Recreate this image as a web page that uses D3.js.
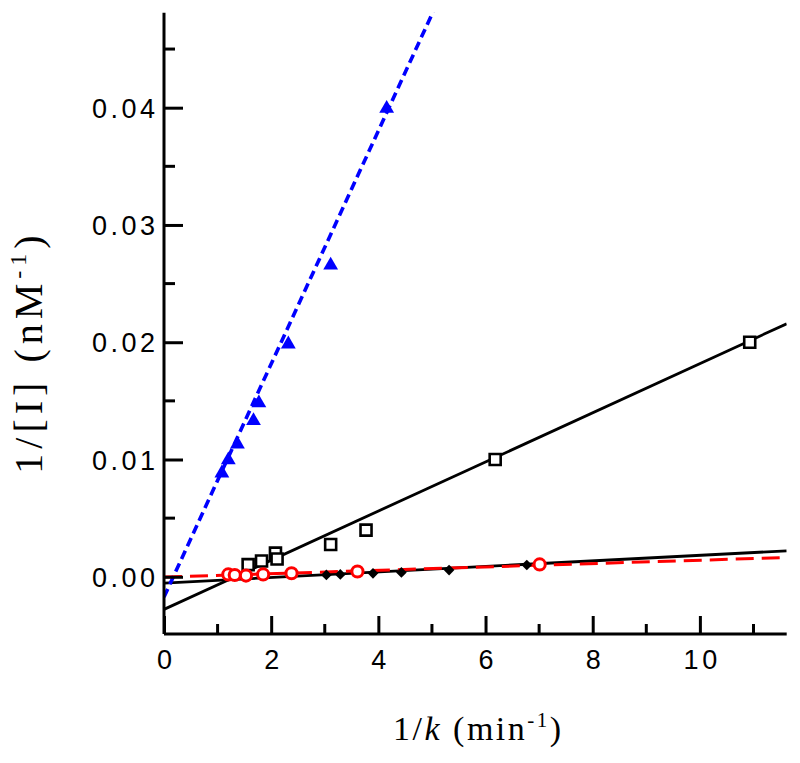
<!DOCTYPE html>
<html>
<head>
<meta charset="utf-8">
<script src="https://cdn.jsdelivr.net/npm/d3@7"></script>
<style>
html,body{margin:0;padding:0;background:#fff;}
svg{display:block;}
</style>
</head>
<body>
<script>
// ---- data ----
const triX = [1.08, 1.20, 1.37, 1.67, 1.77, 2.32, 3.11, 4.155];
const triY = [0.00884, 0.00995, 0.01131, 0.0133, 0.01481, 0.01984, 0.02657, 0.03993];

const sqX = [1.57, 1.82, 2.08, 2.11, 3.11, 3.77, 6.18, 10.93];
const sqY = [0.00104, 0.00134, 0.00202, 0.00151, 0.00275, 0.00398, 0.0100, 0.0200];

const cirX = [1.20, 1.32, 1.53, 1.85, 2.38, 3.61, 7.01];
const cirY = [0.0002, 0.00015, 0.0001, 0.0002, 0.0003, 0.00045, 0.00105];

const diaX = [3.03, 3.29, 3.90, 4.43, 5.32, 6.77];
const diaY = [0.00016, 0.0002, 0.00029, 0.00037, 0.00057, 0.0010];

// fitted lines: [slope, intercept]
const fitSq  = [0.002096, -0.00278];
const fitDia = [0.000237, -0.00054];
const fitCir = [0.000143, -0.00002];
const fitTri = [0.00994, -0.00173];

const xMajorTicks = [0, 2, 4, 6, 8, 10];
const xMinorTicks = [1, 3, 5, 7, 9, 11];
const yMajorTicks = [0, 0.01, 0.02, 0.03, 0.04];
const yMinorTicks = [0.005, 0.015, 0.025, 0.035, 0.045];

const xDomain = [0, 11.62];
const yDomain = [-0.00488, 0.0481];

// ---- drawing ----
const W = 800, H = 763;
const mL = 164, mR = 786.7, mT = 12.7, mB = 634;

const svg = d3.select("body").append("svg").attr("width", W).attr("height", H);

const x = d3.scaleLinear().domain(xDomain).range([mL, mR]);
const y = d3.scaleLinear().domain(yDomain).range([mB, mT]);

svg.append("defs").append("clipPath").attr("id", "plotclip")
  .append("rect").attr("x", mL).attr("y", mT).attr("width", mR - mL).attr("height", mB - mT);

const plot = svg.append("g");
const lines = plot.append("g").attr("clip-path", "url(#plotclip)");

function fitLine(fit, color, width, dash) {
  const pts = [xDomain[0], xDomain[1]].map(v => [v, fit[0] * v + fit[1]]);
  lines.append("path")
    .attr("d", d3.line().x(d => x(d[0])).y(d => y(d[1]))(pts))
    .attr("fill", "none").attr("stroke", color).attr("stroke-width", width)
    .attr("stroke-dasharray", dash || null);
}
fitLine(fitSq, "#000", 2.8);
fitLine(fitDia, "#000", 2.8);
fitLine(fitCir, "#ff0000", 3, "18,8");
fitLine(fitTri, "#0000ff", 3.6, "9,5");

const marks = plot.append("g");
function zip(a, b) { return a.map((v, i) => [v, b[i]]); }

// squares (open)
marks.selectAll(".sq").data(zip(sqX, sqY)).join("path")
  .attr("transform", d => `translate(${x(d[0])},${y(d[1])})`)
  .attr("d", d3.symbol().type(d3.symbolSquare).size(121)())
  .attr("fill", "#fff").attr("stroke", "#000").attr("stroke-width", 2.6);

// diamonds (filled)
marks.selectAll(".dia").data(zip(diaX, diaY)).join("path")
  .attr("transform", d => `translate(${x(d[0])},${y(d[1])})`)
  .attr("d", d3.symbol().type(d3.symbolDiamond2).size(72)())
  .attr("fill", "#000");

// circles (open red)
marks.selectAll(".cir").data(zip(cirX, cirY)).join("circle")
  .attr("cx", d => x(d[0])).attr("cy", d => y(d[1])).attr("r", 5.6)
  .attr("fill", "#fff").attr("stroke", "#ff0000").attr("stroke-width", 3);

// triangles (filled blue)
marks.selectAll(".tri").data(zip(triX, triY)).join("path")
  .attr("transform", d => `translate(${x(d[0])},${y(d[1])})`)
  .attr("d", d3.symbol().type(d3.symbolTriangle).size(95)())
  .attr("fill", "#0000ff");

// ---- axes ----
const axisG = svg.append("g");
const ls = 3.5; // letter spacing of tick labels
const tickFont = "'Liberation Sans', Arial, sans-serif";

// x axis
const xAxis = axisG.append("g").attr("transform", `translate(0,${mB})`)
  .call(d3.axisBottom(x).tickValues(xMajorTicks).tickSize(0).tickFormat(d3.format("d")).tickPadding(0));
xAxis.select(".domain").attr("d", `M${mL},0H${mR}`).attr("stroke", "#000").attr("stroke-width", 3);
xAxis.selectAll(".tick text").attr("y", 34.5).attr("dy", 0)
  .attr("font-family", tickFont).attr("font-size", 27)
  .attr("letter-spacing", ls).attr("dx", ls / 2).attr("fill", "#000");
xAxis.selectAll(".tick line").remove();
xAxis.selectAll(".tick").append("line").attr("y1", 0).attr("y2", -18).attr("stroke", "#000").attr("stroke-width", 3);
axisG.selectAll(".xminor").data(xMinorTicks).join("line")
  .attr("x1", d => x(d)).attr("x2", d => x(d)).attr("y1", mB).attr("y2", mB - 10)
  .attr("stroke", "#000").attr("stroke-width", 3);

// y axis
const yAxis = axisG.append("g").attr("transform", `translate(${mL},0)`)
  .call(d3.axisLeft(y).tickValues(yMajorTicks).tickSize(0).tickFormat(d3.format(".2f")).tickPadding(0));
yAxis.select(".domain").attr("d", `M0,${mT}V${mB}`).attr("stroke", "#000").attr("stroke-width", 3);
yAxis.selectAll(".tick text").attr("x", -9 + ls).attr("dy", "0.36em")
  .attr("font-family", tickFont).attr("font-size", 27)
  .attr("letter-spacing", ls).attr("fill", "#000");
yAxis.selectAll(".tick line").remove();
yAxis.selectAll(".tick").append("line").attr("x1", 0).attr("x2", 19).attr("stroke", "#000").attr("stroke-width", 3);
axisG.selectAll(".yminor").data(yMinorTicks).join("line")
  .attr("x1", mL).attr("x2", mL + 11).attr("y1", d => y(d)).attr("y2", d => y(d))
  .attr("stroke", "#000").attr("stroke-width", 3);

// ---- axis titles ----
const titleFont = "'Liberation Serif', 'Times New Roman', serif";
const xt = svg.append("text").attr("x", (mL + mR) / 2 + 3).attr("y", 740)
  .attr("text-anchor", "middle").attr("font-family", titleFont)
  .attr("font-size", 34).attr("letter-spacing", 2.5).attr("fill", "#000");
xt.append("tspan").text("1/");
xt.append("tspan").attr("font-style", "italic").text("k");
xt.append("tspan").text(" (min");
xt.append("tspan").attr("font-size", 21).attr("dy", -13).text("-1");
xt.append("tspan").attr("dy", 13).text(")");

const yt = svg.append("text").attr("transform", `translate(42,352) rotate(-90)`)
  .attr("text-anchor", "middle").attr("font-family", titleFont)
  .attr("font-size", 40).attr("letter-spacing", 5).attr("fill", "#000");
yt.append("tspan").text("1/[I] (nM");
yt.append("tspan").attr("font-size", 24).attr("dy", -16).text("-1");
yt.append("tspan").attr("dy", 16).text(")");
</script>
</body>
</html>
